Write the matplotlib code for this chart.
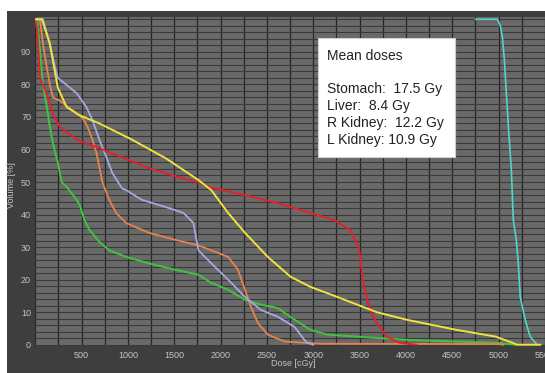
import matplotlib.pyplot as plt
from matplotlib.patches import Rectangle
from matplotlib.ticker import MultipleLocator

plt.rcParams["font.family"] = ["Liberation Sans", "DejaVu Sans"]

# dose-volume curves (dose in cGy, volume in %)
yellow_dose = [0, 73, 158, 190, 244, 340, 479, 692, 1045, 1408, 1761, 1900, 2081,
               2263, 2509, 2754, 2968, 3257, 3684, 4004, 4539, 4966, 5148, 5200, 5450]
yellow_vol = [100, 100, 92.6, 87.4, 79, 73, 70.5, 68, 63, 57.3, 50.6, 47.5, 40.5,
              34.4, 27, 20.9, 17.8, 14.7, 10, 7.7, 4.6, 2.5, 0.6, 0, 0]

red_dose = [0, 19, 51, 126, 190, 265, 447, 692, 874, 1226, 1579, 1761, 1900, 2263,
            2616, 2968, 3225, 3396, 3492, 3535, 3588, 3641, 3684, 3791, 3930, 4111]
red_vol = [100, 97, 82, 77, 71, 67, 63, 60.4, 58.3, 54.3, 51.2, 50, 48.2, 46,
           43.5, 40.5, 38.3, 35.3, 30, 20, 13, 9, 6.7, 2.5, 0.6, 0]

green_dose = [0, 19, 51, 83, 126, 158, 190, 244, 286, 340, 447, 479, 532, 585, 692,
              799, 981, 1226, 1515, 1761, 1900, 2081, 2263, 2434, 2616, 2797, 2968,
              3150, 3684, 4004, 4539, 4966, 5180]
green_vol = [100, 100, 90.5, 80, 73, 67, 62, 56, 50, 48.5, 44.5, 43, 38.3, 35.3, 31.6,
             29, 27, 25, 23, 21.5, 19, 16.9, 13.8, 12.3, 11.3, 7.7, 4.6,
             3.1, 2.1, 1.5, 1, 0.6, 0]

orange_dose = [0, 51, 83, 126, 158, 190, 265, 404, 511, 564, 618, 660, 692, 724, 799,
               874, 981, 1226, 1515, 1761, 1900, 2081, 2188, 2263, 2327, 2401, 2509,
               2690, 2904, 3100, 5000, 5050]
orange_vol = [100, 100, 92.6, 85, 80, 76, 75, 72, 69.6, 67, 63, 59, 54.6, 50, 44.5,
              40.5, 37.4, 34.4, 32.2, 30.5, 29, 27, 23, 16.9, 11.7, 6.7, 3.1,
              1, 0.6, 0.3, 0.2, 0]

blue_dose = [0, 83, 158, 212, 244, 340, 447, 553, 618, 692, 767, 831, 938, 981, 1152,
             1408, 1600, 1707, 1740, 1761, 1900, 2081, 2263, 2434, 2616, 2797, 2904,
             2936, 3000]
blue_vol = [100, 100, 92, 85.5, 82, 79.8, 77.3, 73, 69, 63, 57.7, 52.8, 48, 47.5, 44.5,
            42.3, 40.5, 37.4, 32.2, 29, 25, 20, 14.7, 10.7, 8.6, 5.5, 1.5,
            0.6, 0]

cyan_dose = [4752, 4987, 5019, 5040, 5062, 5083, 5105, 5137, 5158, 5190, 5212, 5233,
             5286, 5340, 5415]
cyan_vol = [100, 100, 98, 94.5, 87.4, 77.3, 67, 53.7, 38.3, 32.2, 25, 14.7,
            7.7, 2.5, 0]

x_ticks = [500, 1000, 1500, 2000, 2500, 3000, 3500, 4000, 4500, 5000, 5500]
y_ticks = [0, 10, 20, 30, 40, 50, 60, 70, 80, 90]

legend_lines = ["Mean doses", "", "Stomach:  17.5 Gy", "Liver:  8.4 Gy",
                "R Kidney:  12.2 Gy", "L Kidney: 10.9 Gy"]

W, H = 545, 373
fig = plt.figure(figsize=(W / 100, H / 100), dpi=100, facecolor="white")

# dark frame of the screenshot
frame = Rectangle((7 / W, 0), 1, 1 - 11 / H, transform=fig.transFigure,
                  facecolor="#3e3e3e", edgecolor="none", zorder=-1)
fig.patches.append(frame)

ax = fig.add_axes([35.2 / W, 1 - 345.7 / H, 1 - 35.2 / W, (345.7 - 17) / H])
ax.set_zorder(1)
ax.set_facecolor("#696969")

ax.plot(cyan_dose, cyan_vol, color="#4fd6c6", lw=1.2)
ax.plot(green_dose, green_vol, color="#3ec43e", lw=1.4)
ax.plot(orange_dose, orange_vol, color="#e8824c", lw=1.3)
ax.plot(blue_dose, blue_vol, color="#a4a8e2", lw=1.3)
ax.plot(red_dose, red_vol, color="#e4202e", lw=1.4)
ax.plot(yellow_dose, yellow_vol, color="#eee23e", lw=1.4)

ax.set_xlim(0, 5447)
ax.set_ylim(-0.3, 100.7)
ax.set_xticks(x_ticks)
ax.set_yticks(y_ticks)
ax.xaxis.set_minor_locator(MultipleLocator(250))
ax.yaxis.set_minor_locator(MultipleLocator(2))
ax.grid(True, which="both", axis="y", color="#3a3a3a", lw=0.8)
ax.grid(True, which="both", axis="x", color="#262626", lw=0.9)
ax.set_axisbelow(True)
ax.tick_params(which="both", length=0, colors="#c4c4c4", labelsize=6.5)
ax.tick_params(axis="y", pad=3)
ax.tick_params(axis="x", pad=4)
for s in ax.spines.values():
    s.set_visible(False)

fig.text(293 / W, 1 - 364 / H, "Dose [cGy]", color="#c4c4c4", fontsize=6.5,
         ha="center", va="center")
fig.text(12 / W, 1 - 185 / H, "Volume [%]", color="#c4c4c4", fontsize=6.5,
         ha="center", va="center", rotation=90)

# mean dose box
box = Rectangle((318 / W, 1 - 157 / H), 137 / W, 119 / H, transform=fig.transFigure,
                facecolor="white", edgecolor="#d0d0d0", lw=0.8, zorder=5)
fig.patches.append(box)
fig.text(327 / W, 1 - 49 / H, "\n".join(legend_lines), fontsize=10, color="#222222",
         ha="left", va="top", linespacing=1.25, zorder=6)

fig.savefig("out.png", dpi=100, facecolor=fig.get_facecolor())
